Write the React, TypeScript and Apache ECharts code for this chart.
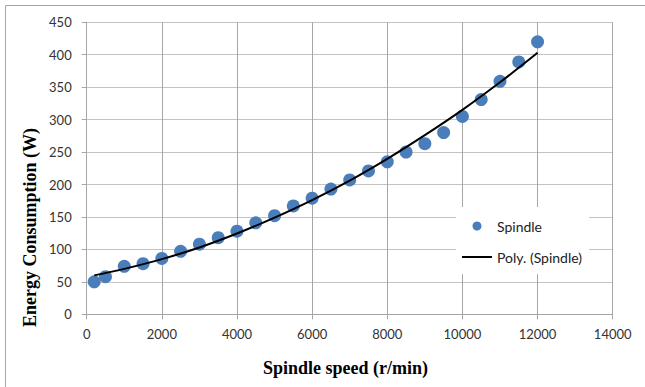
import React, { useEffect, useRef } from "react";
import * as echarts from "echarts";

const speeds = [200, 500, 1000, 1500, 2000, 2500, 3000, 3500, 4000, 4500, 5000, 5500, 6000, 6500, 7000, 7500, 8000, 8500, 9000, 9500, 10000, 10500, 11000, 11500, 12000];
const energy = [50, 58, 74, 78, 86, 97, 108, 118, 128, 141, 152, 167, 179, 193, 207, 221, 235, 250, 263, 280, 305, 331, 359, 389, 420];

const trendSpeeds = [200, 1000, 2000, 3000, 4000, 5000, 6000, 7000, 8000, 9000, 10000, 11000, 12000];
const trendEnergy = [60, 70, 85, 103, 124.5, 149, 176, 206, 239.5, 276, 315, 357.5, 403];

const xTicks = { min: 0, max: 14000, interval: 2000 };
const yTicks = { min: 0, max: 450, interval: 50 };

const labelFont = "Lato, 'Noto Sans', sans-serif";
const titleFont = "'Liberation Serif', 'Times New Roman', serif";

export default function App() {
  const ref = useRef<HTMLDivElement>(null);
  useEffect(() => {
    if (!ref.current) return;
    const chart = echarts.init(ref.current, undefined, { renderer: "svg" });
    const axisColor = "#a6a6a6";
    const vGrid = "#a6a6a6";
    const hGrid = "#c4c4c4";
    chart.setOption({
      animation: false,
      backgroundColor: "#ffffff",
      grid: { left: 86.7, right: 32.3, top: 22.3, bottom: 72.7, containLabel: false },
      xAxis: {
        type: "value",
        min: xTicks.min,
        max: xTicks.max,
        interval: xTicks.interval,
        axisLine: { show: true, lineStyle: { color: axisColor, width: 1 } },
        axisTick: { show: true, length: 5, lineStyle: { color: axisColor } },
        splitLine: { show: true, lineStyle: { color: vGrid, width: 1 } },
        axisLabel: {
          color: "#333",
          fontSize: 13,
          fontFamily: labelFont,
          margin: 13,
          formatter: (v: number) => String(v),
        },
      },
      yAxis: {
        type: "value",
        min: yTicks.min,
        max: yTicks.max,
        interval: yTicks.interval,
        axisLine: { show: true, lineStyle: { color: axisColor, width: 1 } },
        axisTick: { show: true, length: 5, lineStyle: { color: axisColor } },
        splitLine: { show: true, lineStyle: { color: hGrid, width: 1 } },
        axisLabel: { color: "#333", fontSize: 13, fontFamily: labelFont, margin: 15 },
      },
      legend: {
        orient: "vertical",
        left: 456,
        top: 207,
        backgroundColor: "#ffffff",
        padding: [11, 7, 9, 5],
        itemWidth: 30,
        itemHeight: 9,
        itemGap: 15,
        textStyle: { color: "#222", fontSize: 14, fontFamily: labelFont, lineHeight: 16 },
        data: [
          { name: "Spindle", icon: "circle" },
          { name: "Poly. (Spindle)", itemStyle: { opacity: 0 } },
        ],
      },
      graphic: [
        { type: "line", shape: { x1: 5.5, y1: 5.5, x2: 645, y2: 5.5 }, style: { stroke: "#a6a6a6", lineWidth: 1 } },
        { type: "line", shape: { x1: 5.5, y1: 5.5, x2: 5.5, y2: 387 }, style: { stroke: "#a6a6a6", lineWidth: 1 } },
        {
          type: "text",
          x: 345.5,
          y: 368,
          style: {
            text: "Spindle speed (r/min)",
            font: `bold 18px ${titleFont}`,
            fill: "#000",
            align: "center",
            verticalAlign: "middle",
          },
        },
        {
          type: "text",
          x: 29.5,
          y: 227.5,
          rotation: Math.PI / 2,
          style: {
            text: "Energy Consumption (W)",
            font: `bold 18px ${titleFont}`,
            fill: "#000",
            align: "center",
            verticalAlign: "middle",
          },
        },
      ],
      series: [
        {
          name: "Spindle",
          type: "scatter",
          symbol: "circle",
          symbolSize: 13,
          itemStyle: { color: "#4a7ebb", opacity: 1 },
          data: speeds.map((s, i) => [s, energy[i]]),
          z: 2,
        },
        {
          name: "Poly. (Spindle)",
          type: "line",
          smooth: 0.4,
          symbol: "none",
          showSymbol: false,
          lineStyle: { color: "#000000", width: 2 },
          itemStyle: { color: "#000000" },
          data: trendSpeeds.map((s, i) => [s, trendEnergy[i]]),
          z: 3,
        },
      ],
    });
    return () => chart.dispose();
  }, []);
  return (
    <div
      ref={ref}
      style={{ position: "absolute", left: 0, top: 0, width: 645, height: 387, background: "#fff" }}
    />
  );
}
